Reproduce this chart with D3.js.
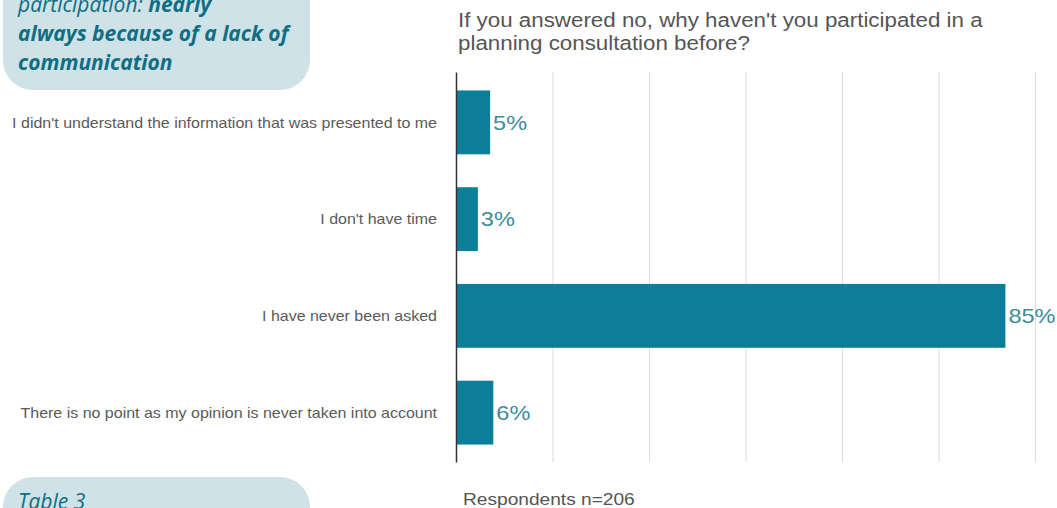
<!DOCTYPE html>
<html><head><meta charset="utf-8">
<script src="https://cdn.jsdelivr.net/npm/d3@7"></script>
<style>
html,body{margin:0;padding:0;background:#fff;overflow:hidden}
svg{display:block}
</style></head>
<body>
<svg id="c" width="1057" height="508"></svg>
<script>
const categories = [
  "I didn't understand the information that was presented to me",
  "I don't have time",
  "I have never been asked",
  "There is no point as my opinion is never taken into account"
];
const values = [5.3, 3.4, 85.4, 5.8];
const tickValues = [0, 15, 30, 45, 60, 75, 90];
const titleLines = ["If you answered no, why haven't you participated in a", "planning consultation before?"];
const footnote = "Respondents n=206";
const calloutLines = [
  [{t:"participation: ", b:false}, {t:"nearly", b:true}],
  [{t:"always because of a lack of", b:true}],
  [{t:"communication", b:true}]
];
const tableLabel = "Table 3";

const svg = d3.select("#c");
const x = d3.scaleLinear().domain([0, 90]).range([456, 1035]);
const y = d3.scaleBand().domain(categories).range([74, 461]).paddingInner(0.34).paddingOuter(0.17);

function stretch(sel, k) {
  sel.each(function() {
    const w = this.getComputedTextLength();
    d3.select(this).attr("textLength", w * k).attr("lengthAdjust", "spacingAndGlyphs");
  });
}

// callout boxes
svg.append("rect").attr("x", 3).attr("y", -40).attr("width", 307).attr("height", 130).attr("rx", 30).attr("fill", "#cfe2e8");
svg.append("rect").attr("x", 3).attr("y", 477).attr("width", 307).attr("height", 90).attr("rx", 30).attr("fill", "#cfe2e8");

const ct = svg.append("g").attr("font-family", "'Open Sans'").attr("font-style", "italic").attr("font-size", 21).attr("fill", "#0e6e83");
calloutLines.forEach((line, i) => {
  const t = ct.append("text").attr("x", 18).attr("y", 12 + i * 29);
  line.forEach(s => t.append("tspan").attr("font-weight", s.b ? 700 : 400).text(s.t));
});
ct.append("text").attr("x", 18).attr("y", 509).attr("font-weight", 400).text(tableLabel);

// gridlines
const grid = svg.append("g").attr("transform", "translate(0,462)")
  .call(d3.axisBottom(x).tickValues(tickValues.slice(1)).tickSize(-390).tickFormat(""));
grid.select(".domain").remove();
grid.selectAll(".tick line").attr("stroke", "#dcdcdc").attr("stroke-width", 1);

// bars
svg.append("g").selectAll("rect").data(values).join("rect")
  .attr("x", x(0)).attr("y", (d, i) => y(categories[i]))
  .attr("width", d => x(d) - x(0)).attr("height", y.bandwidth())
  .attr("fill", "#0b7e99");

// axis line
svg.append("g").attr("transform", `translate(${x(0)},0)`)
  .call(d3.axisLeft(d3.scaleLinear().range([72, 462])).ticks(0).tickSize(0))
  .select(".domain").attr("stroke", "#333").attr("stroke-width", 1.5);

// category labels
svg.append("g").selectAll("text").data(categories).join("text")
  .attr("x", 437).attr("y", d => y(d) + y.bandwidth() / 2).attr("dy", "0.35em")
  .attr("text-anchor", "end").attr("font-family", "'Liberation Sans', Arial, sans-serif")
  .attr("font-size", 15).attr("fill", "#5a5a5a").text(d => d)
  .call(stretch, 1.065);

// value labels
svg.append("g").selectAll("text").data(values).join("text")
  .attr("x", d => x(d) + 3).attr("y", (d, i) => y(categories[i]) + y.bandwidth() / 2).attr("dy", "0.35em")
  .attr("font-family", "'Liberation Sans', Arial, sans-serif").attr("font-size", 21)
  .attr("fill", "#3f8c96").text(d => Math.round(d) + "%")
  .call(stretch, 1.12);

// title
svg.append("g").selectAll("text").data(titleLines).join("text")
  .attr("x", 458).attr("y", (d, i) => 27 + i * 23)
  .attr("font-family", "'Liberation Sans', Arial, sans-serif").attr("font-size", 20)
  .attr("fill", "#555").text(d => d)
  .call(stretch, 1.117);

// footnote
svg.append("text").attr("x", 463).attr("y", 505)
  .attr("font-family", "'Liberation Sans', Arial, sans-serif").attr("font-size", 17)
  .attr("fill", "#555").text(footnote)
  .call(stretch, 1.125);
</script>
</body></html>
